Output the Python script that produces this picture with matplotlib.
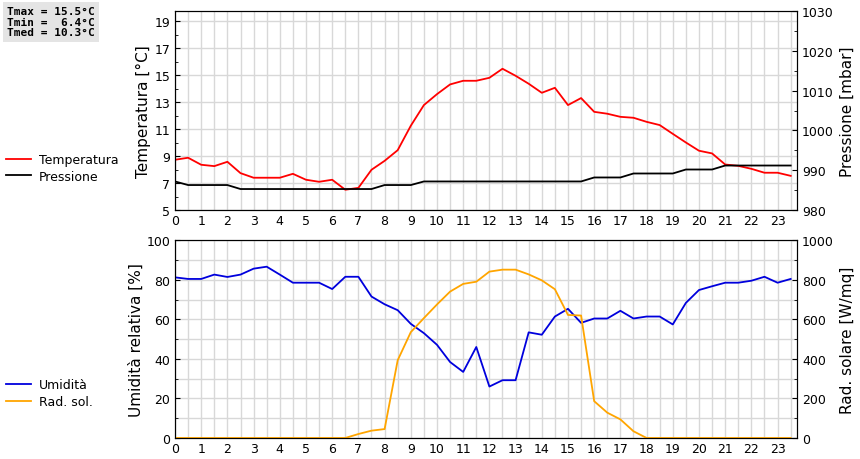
import matplotlib.pyplot as plt
from matplotlib.lines import Line2D
from matplotlib.ticker import MultipleLocator

hours = [h / 2 for h in range(48)]

temperatura = [8.73, 8.88, 8.36, 8.26, 8.58, 7.74, 7.40, 7.40, 7.40, 7.69, 7.25, 7.10,
               7.25, 6.51, 6.65, 7.99, 8.65, 9.44, 11.25, 12.78, 13.59, 14.31, 14.58, 14.58,
               14.80, 15.47, 14.95, 14.36, 13.69, 14.06, 12.78, 13.30, 12.28, 12.14, 11.91, 11.84,
               11.54, 11.30, 10.65, 10.01, 9.40, 9.20, 8.38, 8.28, 8.06, 7.77, 7.77, 7.54]
pressione = [987.2, 986.3, 986.3, 986.3, 986.3, 985.3, 985.3, 985.3, 985.3, 985.3, 985.3, 985.3,
             985.3, 985.3, 985.3, 985.3, 986.3, 986.3, 986.3, 987.2, 987.2, 987.2, 987.2, 987.2,
             987.2, 987.2, 987.2, 987.2, 987.2, 987.2, 987.2, 987.2, 988.2, 988.2, 988.2, 989.2,
             989.2, 989.2, 989.2, 990.2, 990.2, 990.2, 991.2, 991.2, 991.2, 991.2, 991.2, 991.2]
umidita = [81.2, 80.4, 80.4, 82.6, 81.4, 82.6, 85.6, 86.6, 82.6, 78.5, 78.5, 78.5,
           75.3, 81.5, 81.5, 71.5, 67.6, 64.6, 57.7, 53.0, 47.1, 38.4, 33.4, 46.0,
           26.0, 29.2, 29.2, 53.4, 52.2, 61.4, 65.3, 58.2, 60.4, 60.4, 64.3, 60.4,
           61.4, 61.4, 57.4, 68.3, 74.8, 76.7, 78.5, 78.5, 79.5, 81.5, 78.5, 80.4]
rad_sol = [0, 0, 0, 0, 0, 0, 0, 0, 0, 0, 0, 0,
           0, 0, 20, 37, 45, 393, 535, 606, 675, 740, 779, 790,
           841, 851, 851, 827, 797, 752, 622, 619, 186, 128, 94, 34,
           0, 0, 0, 0, 0, 0, 0, 0, 0, 0, 0, 0]

fig = plt.figure(figsize=(8.6, 4.6), dpi=100)
grid_kw = dict(color='#d8d8d8', linewidth=1)


def setup(ax):
    ax.set_xlim(0, 23.75)
    ax.set_xticks(range(24))
    ax.xaxis.set_minor_locator(MultipleLocator(0.5))
    ax.grid(True, which='major', **grid_kw)
    ax.grid(True, which='minor', axis='x', **grid_kw)
    ax.tick_params(which='both', direction='in', labelsize=9)
    ax.tick_params(axis='x', which='both', length=0, pad=3)
    ax.set_axisbelow(True)


# temperatura / pressione
ax1 = fig.add_axes([0.2035, 0.541, 0.7235, 0.433])
setup(ax1)
ax1.plot(hours, temperatura, color='red', linewidth=1.3)
ax1.set_ylim(5, 19.75)
ax1.set_yticks(range(5, 20, 2))
ax1.yaxis.set_minor_locator(MultipleLocator(1))
ax1.set_ylabel('Temperatura [°C]', fontsize=11, labelpad=2)
ax1b = ax1.twinx()
ax1b.plot(hours, pressione, color='black', linewidth=1.3)
ax1b.set_ylim(980, 1030)
ax1b.set_yticks(range(980, 1031, 10))
ax1b.yaxis.set_minor_locator(MultipleLocator(5))
ax1b.tick_params(which='both', direction='in', labelsize=9)
ax1b.set_ylabel('Pressione [mbar]', fontsize=11)

# umidità / radiazione
ax2 = fig.add_axes([0.2035, 0.0457, 0.7235, 0.43])
setup(ax2)
ax2.plot(hours, umidita, color='#0000dd', linewidth=1.3, zorder=3)
ax2.set_ylim(0, 100)
ax2.set_yticks(range(0, 101, 20))
ax2.yaxis.set_minor_locator(MultipleLocator(10))
ax2.grid(True, which='minor', axis='y', **grid_kw)
ax2.set_ylabel('Umidità relativa [%]', fontsize=11, labelpad=2)
ax2b = ax2.twinx()
ax2b.plot(hours, rad_sol, color='orange', linewidth=1.3)
ax2b.set_ylim(0, 1000)
ax2b.set_yticks(range(0, 1001, 200))
ax2b.yaxis.set_minor_locator(MultipleLocator(100))
ax2b.tick_params(which='both', direction='in', labelsize=9)
ax2b.set_ylabel('Rad. solare [W/mq]', fontsize=11)

# legends on the left
leg_kw = dict(loc='upper left', frameon=False, fontsize=9, handlelength=2.0,
              handletextpad=0.6, labelspacing=0.3, borderaxespad=0, borderpad=0)
fig.legend(handles=[Line2D([], [], color='red', lw=1.3), Line2D([], [], color='black', lw=1.3)],
           labels=['Temperatura', 'Pressione'], bbox_to_anchor=(0.007, 0.665), **leg_kw)
fig.legend(handles=[Line2D([], [], color='#0000dd', lw=1.3), Line2D([], [], color='orange', lw=1.3)],
           labels=['Umidità', 'Rad. sol.'], bbox_to_anchor=(0.007, 0.175), **leg_kw)

fig.text(0.008, 0.985, 'Tmax = 15.5°C\nTmin =  6.4°C\nTmed = 10.3°C', family='DejaVu Sans Mono',
         fontsize=8, fontweight='bold', va='top', linespacing=1.1,
         bbox=dict(facecolor='#e4e4e4', edgecolor='none', pad=3))

fig.savefig('out.png', dpi=100)
